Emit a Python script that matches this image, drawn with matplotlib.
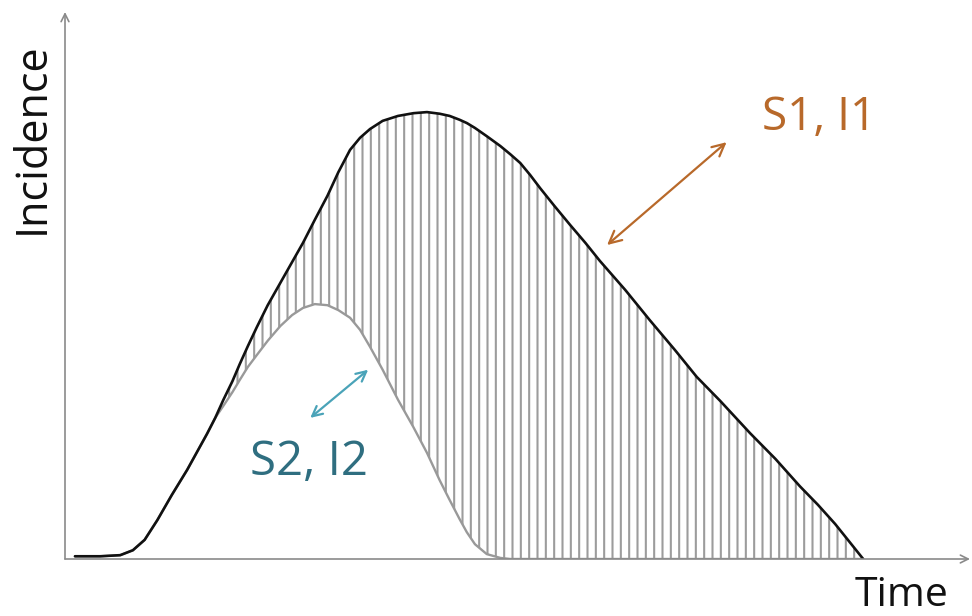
import matplotlib.pyplot as plt
import numpy as np

# curves (time units 0..100, incidence units 0..100)
time = [1.1, 3.9, 6.1, 7.5, 8.8, 10.2, 11.8, 13.5, 14.6, 15.7, 16.6,
        17.5, 18.5, 19.3, 20.2, 21.2, 22.4, 23.8, 25.1, 26.3, 27.6,
        29.0, 30.2, 31.5, 32.6, 33.7, 35.1, 36.8, 38.5, 40.0, 41.4,
        42.5, 43.6, 44.4, 45.3, 46.6, 48.1,
        49.2, 50.3, 51.4, 52.5, 54.1, 55.8, 57.5, 59.1, 61.9, 64.6,
        67.4, 69.8, 72.4, 75.7, 78.5, 81.2, 83.2, 85.1, 86.7, 88.2]
outer = [0.5, 0.5, 0.7, 1.6, 3.5, 7.1, 11.7, 16.3, 19.6, 22.9, 25.8,
         29.1, 32.5, 35.6, 38.9, 42.4, 46.4, 50.5, 54.3, 57.8, 62.0,
         66.4, 70.7, 74.8, 77.0, 78.6, 80.1, 81.0, 81.5, 81.7, 81.4,
         81.0, 80.3, 79.7, 78.8, 77.3, 75.5,
         74.0, 72.4, 70.2, 67.8, 64.5, 61.1, 57.8, 54.5, 49.2, 43.7,
         38.2, 33.3, 28.9, 23.0, 18.3, 13.3, 9.9, 6.4, 3.1, 0.0]
inner = [0.5, 0.5, 0.7, 1.6, 3.5, 7.1, 11.7, 16.3, 19.6, 22.9, 25.8,
         28.0, 30.5, 32.7, 35.1, 37.3, 39.9, 42.6, 44.6, 45.9, 46.6,
         46.4, 45.5, 44.1, 41.9, 38.8, 34.6, 29.1, 24.1, 19.4, 14.4,
         10.8, 7.3, 4.9, 2.7, 0.9, 0.2,
         0.0, 0.0, 0.0, 0.0, 0.0, 0.0, 0.0, 0.0, 0.0, 0.0,
         0.0, 0.0, 0.0, 0.0, 0.0, 0.0, 0.0, 0.0, 0.0, 0.0]

brown_arrow = [(59.9, 57.4), (73.1, 76.2)]
teal_arrow = [(27.1, 25.8), (33.5, 34.6)]

plt.rcParams['font.family'] = ['Open Sans', 'DejaVu Sans']
plt.rcParams['hatch.linewidth'] = 1.5

fig = plt.figure(figsize=(9.72, 6.16), dpi=100, facecolor='white')
ax = fig.add_axes([65 / 972, 57 / 616, 905 / 972, 547 / 616])
ax.set_xlim(0, 100)
ax.set_ylim(0, 100)
ax.axis('off')

# axes with open arrow heads
axis_col = '#8a8a8a'
ax.annotate('', xy=(1, 0), xytext=(0, 0), xycoords='axes fraction',
            arrowprops=dict(arrowstyle='->', color=axis_col, lw=1.2,
                            shrinkA=0, shrinkB=0, mutation_scale=14))
ax.annotate('', xy=(0, 1), xytext=(0, 0), xycoords='axes fraction',
            arrowprops=dict(arrowstyle='->', color=axis_col, lw=1.2,
                            shrinkA=0, shrinkB=0, mutation_scale=14))

ax.fill_between(time, inner, outer, facecolor='none', edgecolor='#9c9c9c',
                hatch='||', linewidth=0)
ax.plot(time, inner, color='#999999', lw=1.7, solid_capstyle='round')
ax.plot(time, outer, color='#111111', lw=1.9, solid_capstyle='round')

ax.annotate('', xy=brown_arrow[1], xytext=brown_arrow[0],
            arrowprops=dict(arrowstyle='<->', color='#b8692a', lw=1.6,
                            shrinkA=0, shrinkB=0, mutation_scale=22))
ax.annotate('', xy=teal_arrow[1], xytext=teal_arrow[0],
            arrowprops=dict(arrowstyle='<->', color='#4aa3b8', lw=1.6,
                            shrinkA=0, shrinkB=0, mutation_scale=18))

ax.text(77.0, 80.6, 'S1, I1', color='#b8692a', fontsize=33,
        ha='left', va='center')
ax.text(20.4, 17.6, 'S2, I2', color='#2f6e80', fontsize=34,
        ha='left', va='center')

ax.text(0.873, -0.068, 'Time', transform=ax.transAxes, fontsize=29.5,
        ha='left', va='center', color='#111111')
ax.text(-0.036, 0.77, 'Incidence', transform=ax.transAxes, fontsize=31,
        rotation=90, ha='center', va='center', color='#111111')

fig.savefig('out.png', dpi=100, facecolor='white')
